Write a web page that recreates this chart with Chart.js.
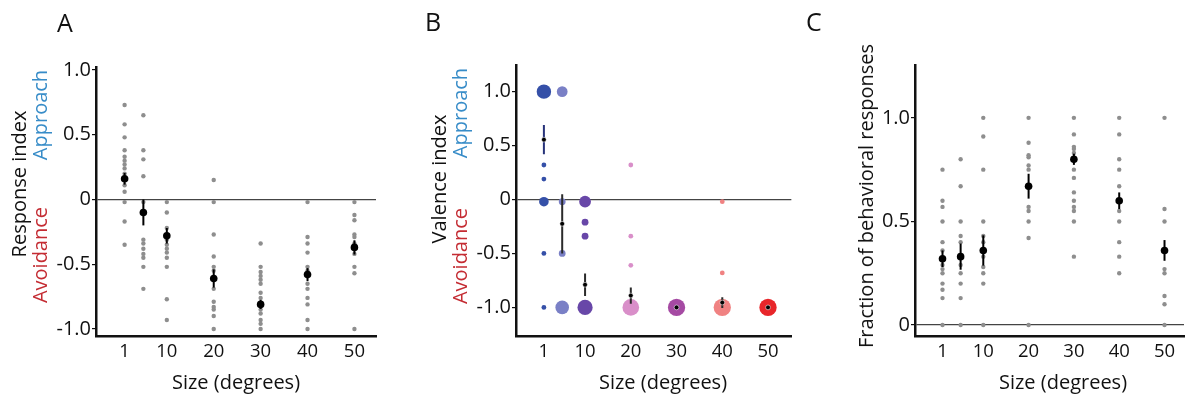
<!DOCTYPE html>
<html>
<head>
<meta charset="utf-8">
<script src="https://cdn.jsdelivr.net/npm/chart.js@4.4.1/dist/chart.umd.min.js"></script>
<style>
  body { margin: 0; background: #fff; font-family: "Open Sans", sans-serif; color: #111; }
  #fig { position: relative; width: 1188px; height: 396px; overflow: hidden; }
  canvas { position: absolute; top: 0; }
  .lbl { position: absolute; white-space: nowrap; line-height: 1; }
  .letter { font-size: 25px; }
  .ytitle { font-size: 20px; transform: translate(-50%, -50%) rotate(-90deg); }
  .xtitle { font-size: 20px; transform: translateX(-50%); }
  .approach { color: #378cc8; }
  .avoid { color: #c42c33; }
</style>
</head>
<body>
<div id="fig">
  <canvas id="chartA" width="390" height="396" style="left:0px"></canvas>
  <canvas id="chartB" width="400" height="396" style="left:400px"></canvas>
  <canvas id="chartC" width="388" height="396" style="left:800px"></canvas>

  <div class="lbl letter" style="left:57px;top:10px">A</div>
  <div class="lbl letter" style="left:425px;top:9px">B</div>
  <div class="lbl letter" style="left:806px;top:9px">C</div>

  <div class="lbl ytitle" style="left:19px;top:184px">Response index</div>
  <div class="lbl ytitle approach" style="left:40px;top:115px">Approach</div>
  <div class="lbl ytitle avoid" style="left:40px;top:255px">Avoidance</div>

  <div class="lbl ytitle" style="left:439px;top:179px">Valence index</div>
  <div class="lbl ytitle approach" style="left:460px;top:113px">Approach</div>
  <div class="lbl ytitle avoid" style="left:460px;top:256px">Avoidance</div>

  <div class="lbl ytitle" style="left:866px;top:196px">Fraction of behavioral responses</div>

  <div class="lbl xtitle" style="left:236px;top:372px">Size (degrees)</div>
  <div class="lbl xtitle" style="left:663px;top:372px">Size (degrees)</div>
  <div class="lbl xtitle" style="left:1063px;top:372px">Size (degrees)</div>
</div>

<script>
// stimulus sizes (degrees) and the labelled ticks on the size axis
const sizes = [1, 5, 10, 20, 30, 40, 50];
const sizeTicks = [1, 10, 20, 30, 40, 50];

// A: response index per fly, then mean and s.e.m. per size
const respFlies = [
  [0.73, 0.58, 0.48, 0.38, 0.33, 0.30, 0.27, 0.24, 0.20, 0.11, 0.06, -0.02, -0.17, -0.35],
  [0.65, 0.38, 0.31, 0.18, -0.02, -0.31, -0.34, -0.38, -0.42, -0.45, -0.52, -0.69],
  [-0.02, -0.10, -0.22, -0.31, -0.35, -0.38, -0.41, -0.45, -0.52, -0.77, -0.93],
  [0.15, -0.02, -0.27, -0.44, -0.52, -0.55, -0.69, -0.79, -0.83, -0.85, -0.90, -1.0],
  [-0.34, -0.52, -0.56, -0.59, -0.62, -0.65, -0.72, -0.76, -0.85, -0.88, -0.93, -0.96, -1.0],
  [-0.02, -0.29, -0.34, -0.41, -0.52, -0.55, -0.65, -0.69, -0.76, -0.81, -0.93, -1.0],
  [-0.02, -0.12, -0.16, -0.27, -0.29, -0.34, -0.42, -0.52, -0.57, -1.0]
];
const respMean = [0.16, -0.10, -0.28, -0.61, -0.81, -0.58, -0.37];
const respSem = [0.045, 0.10, 0.06, 0.07, 0.035, 0.05, 0.055];

// B: valence index values with the number of flies at each value
const valValues = [
  [1.0, 0.32, 0.19, -0.02, -0.5, -1.0],
  [1.0, -0.02, -0.5, -1.0],
  [-0.02, -0.21, -0.34, -1.0],
  [0.32, -0.34, -0.61, -1.0],
  [-1.0],
  [-0.02, -0.68, -1.0],
  [-1.0]
];
const valCounts = [
  [9, 1, 1, 4, 1, 1],
  [5, 2, 2, 8],
  [6, 2, 2, 10],
  [1, 1, 1, 12],
  [13],
  [1, 1, 13],
  [13]
];
const valMean = [0.555, -0.225, -0.79, -0.89, -1.0, -0.955, -1.0];
const valSem = [0.135, 0.275, 0.105, 0.075, 0, 0.05, 0];

// C: fraction of trials with a behavioural response, per fly
const fracFlies = [
  [0.75, 0.60, 0.57, 0.50, 0.40, 0.36, 0.29, 0.27, 0.25, 0.20, 0.17, 0.13, 0],
  [0.80, 0.67, 0.50, 0.43, 0.40, 0.29, 0.25, 0.20, 0.13, 0],
  [1.0, 0.91, 0.75, 0.50, 0.43, 0.40, 0.33, 0.28, 0.25, 0.20, 0],
  [1.0, 0.88, 0.82, 0.81, 0.77, 0.75, 0.57, 0.55, 0.50, 0.42, 0],
  [1.0, 0.92, 0.86, 0.85, 0.83, 0.75, 0.71, 0.64, 0.60, 0.57, 0.55, 0.50, 0.33],
  [1.0, 0.92, 0.80, 0.75, 0.67, 0.55, 0.50, 0.40, 0.33, 0.25],
  [1.0, 0.56, 0.50, 0.27, 0.25, 0.14, 0.10, 0]
];
const fracMean = [0.32, 0.33, 0.36, 0.67, 0.80, 0.60, 0.36];
const fracSem = [0.04, 0.063, 0.073, 0.06, 0.027, 0.04, 0.05];

const indexTicks = [-1, -0.5, 0, 0.5, 1];
const fracTicks = [0, 0.5, 1];

// styling
const FONT = '"Open Sans", sans-serif';
const INK = '#111';
const DOT_GREY = '#8e8e8e';
const sizeColors = ['#3550a8', '#7a80c6', '#6847a8', '#d98fc9', '#a54aa3', '#f08282', '#e8262a'];
const valErrColors = ['#27337a', '#2b2b2b', '#2b2b2b', '#2b2b2b', '#2b2b2b', '#2b2b2b', '#2b2b2b'];

function tickLabel(v) {
  return v === 0 ? '0' : v.toFixed(1);
}

function buildScales(xRange, yRange, yTicks, yWidth) {
  return {
    x: {
      type: 'linear',
      min: xRange[0],
      max: xRange[1],
      afterBuildTicks: s => { s.ticks = sizeTicks.map(v => ({ value: v })); },
      afterFit: s => { s.height = 60; },
      grid: { display: false },
      border: { display: true, width: 2.5, color: '#111' },
      ticks: { color: INK, font: { family: FONT, size: 18.5 }, padding: -3, maxRotation: 0, callback: v => String(v) }
    },
    y: {
      type: 'linear',
      min: yRange[0],
      max: yRange[1],
      afterBuildTicks: s => { s.ticks = yTicks.map(v => ({ value: v })); },
      afterFit: s => { s.width = yWidth; },
      grid: {
        color: c => (c.tick && c.tick.value === 0 ? '#444' : 'rgba(0,0,0,0)'),
        lineWidth: 1.2,
        tickColor: '#111',
        tickLength: 4,
        tickWidth: 1.2
      },
      border: { display: true, width: 2.5, color: '#111' },
      ticks: { color: INK, font: { family: FONT, size: 20 }, padding: 1, callback: v => tickLabel(v) }
    }
  };
}

function errorBars(means, sems, colors, width) {
  return sizes.map((s, i) => ({
    data: [{ x: s, y: means[i] - sems[i] }, { x: s, y: means[i] + sems[i] }],
    showLine: true,
    borderColor: Array.isArray(colors) ? colors[i] : colors,
    borderWidth: width,
    pointRadius: 0,
    order: 2
  }));
}

function meanPoints(means, radius, border) {
  return {
    data: sizes.map((s, i) => ({ x: s, y: means[i] })),
    pointRadius: radius,
    pointBackgroundColor: '#000',
    pointBorderColor: border || '#000',
    pointBorderWidth: border ? 1 : 0,
    order: 1
  };
}

function flyDots(values) {
  return {
    data: sizes.flatMap((s, i) => values[i].map(v => ({ x: s, y: v }))),
    pointRadius: 2.2,
    pointBackgroundColor: DOT_GREY,
    pointBorderWidth: 0,
    order: 3
  };
}

function makeChart(id, datasets, scales, padding) {
  return new Chart(document.getElementById(id), {
    type: 'scatter',
    data: { datasets },
    options: {
      responsive: false,
      animation: false,
      events: [],
      layout: { padding },
      scales,
      plugins: { legend: { display: false }, tooltip: { enabled: false } }
    }
  });
}

// --- A: response index ---
makeChart('chartA', [
  flyDots(respFlies),
  ...errorBars(respMean, respSem, '#000', 2),
  meanPoints(respMean, 3.8)
], buildScales([-5.1, 54.6], [-1.054, 1.023], indexTicks, 96), { top: 67, right: 14, left: 0, bottom: 0 });

// --- B: valence index, marker area grows with number of flies ---
const valDots = sizes.map((s, i) => ({
  data: valValues[i].map(v => ({ x: s, y: v })),
  pointRadius: c => 2.4 * Math.sqrt(valCounts[i][c.dataIndex] || 1),
  pointBackgroundColor: sizeColors[i],
  pointBorderWidth: 0,
  order: 3
}));
makeChart('chartB', [
  ...valDots,
  ...errorBars(valMean, valSem, valErrColors, 2),
  meanPoints(valMean, 2.4, 'rgba(255,255,255,0.55)')
], buildScales([-5.1, 55.1], [-1.265, 1.247], indexTicks, 116), { top: 65, right: 5, left: 0, bottom: 0 });

// --- C: fraction of behavioural responses ---
makeChart('chartC', [
  flyDots(fracFlies),
  ...errorBars(fracMean, fracSem, '#000', 2),
  meanPoints(fracMean, 3.8)
], buildScales([-5.07, 54.3], [-0.053, 1.255], fracTicks, 115), { top: 65, right: 0, left: 0, bottom: 0 });
</script>
</body>
</html>
